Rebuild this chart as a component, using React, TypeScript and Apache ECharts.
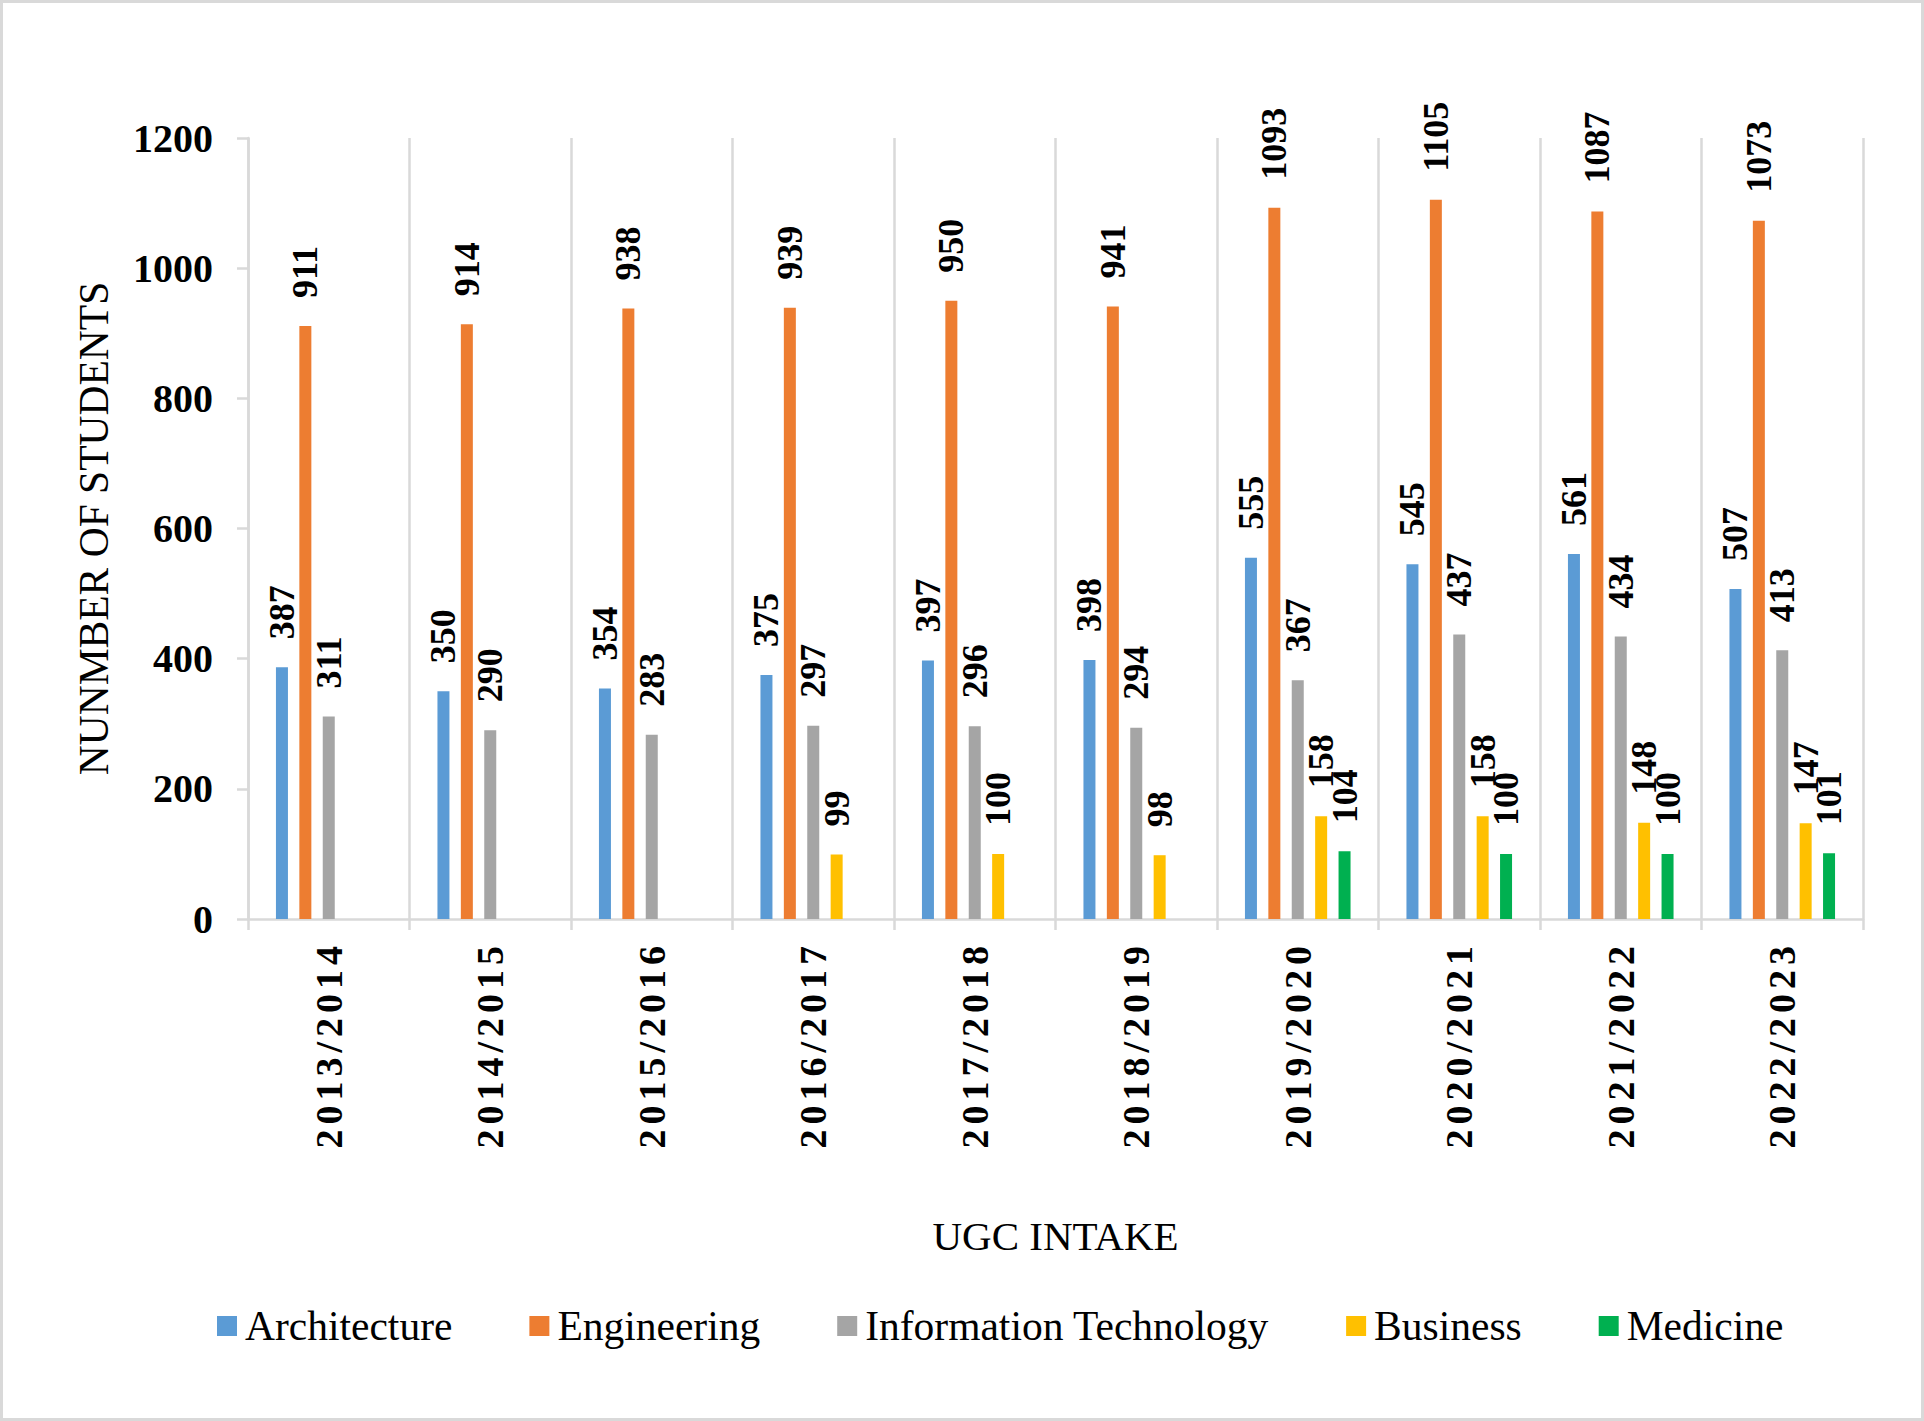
import React, { useEffect, useRef } from "react";
import * as echarts from "echarts";

const categories = [
  "2013/2014", "2014/2015", "2015/2016", "2016/2017", "2017/2018",
  "2018/2019", "2019/2020", "2020/2021", "2021/2022", "2022/2023",
];
const architecture = [387, 350, 354, 375, 397, 398, 555, 545, 561, 507];
const engineering = [911, 914, 938, 939, 950, 941, 1093, 1105, 1087, 1073];
const informationTechnology = [311, 290, 283, 297, 296, 294, 367, 437, 434, 413];
const business = [null, null, null, 99, 100, 98, 158, 158, 148, 147];
const medicine = [null, null, null, null, null, null, 104, 100, 100, 101];

const seriesNames = ["Architecture", "Engineering", "Information Technology", "Business", "Medicine"];
const seriesColors = ["#5B9BD5", "#ED7D31", "#A5A5A5", "#FFC000", "#00B050"];
const seriesData = [architecture, engineering, informationTechnology, business, medicine];

const yTicks = { min: 0, max: 1200, interval: 200 };

const FONT = "'Liberation Serif', 'Times New Roman', serif";
const GRID_COLOR = "#D9D9D9";

export default function App() {
  const ref = useRef<HTMLDivElement>(null);

  useEffect(() => {
    if (!ref.current) return;
    const chart = echarts.init(ref.current, null, { renderer: "svg" });

    const option: any = {
      animation: false,
      backgroundColor: "#FFFFFF",
      grid: { left: 248, right: 61, top: 138, bottom: 502, containLabel: false },
      graphic: [
        {
          type: "rect",
          shape: { x: 1.5, y: 1.5, width: 1921, height: 1418 },
          style: { fill: "none", stroke: GRID_COLOR, lineWidth: 3 },
          silent: true,
        },
      ],
      legend: {
        data: seriesNames,
        left: 217,
        top: 1305,
        padding: 0,
        itemWidth: 20,
        itemHeight: 20,
        itemGap: 77,
        icon: "rect",
        textStyle: { fontSize: 41.5, fontFamily: FONT, color: "#000", padding: [0, 0, 0, 3] },
      },
      xAxis: {
        type: "category",
        data: categories,
        name: "UGC INTAKE",
        nameLocation: "middle",
        nameGap: 296,
        nameTextStyle: { fontSize: 41, fontFamily: FONT, color: "#000" },
        axisLine: { show: true, lineStyle: { color: GRID_COLOR, width: 2.5 } },
        axisTick: { show: true, length: 11, lineStyle: { color: GRID_COLOR, width: 2.5 } },
        splitLine: { show: true, lineStyle: { color: GRID_COLOR, width: 2.5 } },
        axisLabel: {
          rotate: 90,
          margin: 22,
          fontSize: 38,
          fontWeight: "bold",
          fontFamily: FONT,
          color: "#000",
          interval: 0,
        },
      },
      yAxis: {
        type: "value",
        min: yTicks.min,
        max: yTicks.max,
        interval: yTicks.interval,
        name: "NUNMBER OF STUDENTS",
        nameLocation: "middle",
        nameGap: 133,
        nameTextStyle: { fontSize: 41.5, fontFamily: FONT, color: "#000" },
        axisLine: { show: true, lineStyle: { color: GRID_COLOR, width: 2.5 } },
        axisTick: { show: true, length: 11, lineStyle: { color: GRID_COLOR, width: 2.5 } },
        splitLine: { show: false },
        axisLabel: {
          margin: 35,
          fontSize: 40,
          fontWeight: "bold",
          fontFamily: FONT,
          color: "#000",
          formatter: (v: number) => String(v),
        },
      },
      series: seriesNames.map((name, i) => ({
        name,
        type: "bar",
        data: seriesData[i],
        barWidth: 12,
        barGap: "95%",
        itemStyle: { color: seriesColors[i] },
        label: {
          show: true,
          position: "top",
          rotate: 90,
          align: "left",
          verticalAlign: "middle",
          distance: 28,
          fontSize: 36,
          fontWeight: "bold",
          fontFamily: FONT,
          color: "#000",
        },
      })),
    };

    chart.setOption(option);

    const applySpacing = () => {
      if (!ref.current) return;
      const texts = ref.current.querySelectorAll("text");
      texts.forEach((t) => {
        if (/^\d{4}\/\d{4}$/.test((t.textContent || "").trim())) {
          t.setAttribute("letter-spacing", "5");
          (t as any).style.letterSpacing = "5px";
        }
      });
    };
    chart.on("finished", applySpacing);
    const timer = setTimeout(applySpacing, 50);

    return () => {
      clearTimeout(timer);
      chart.dispose();
    };
  }, []);

  return (
    <div
      ref={ref}
      style={{ position: "fixed", left: 0, top: 0, width: 1924, height: 1421, background: "#fff" }}
    />
  );
}
